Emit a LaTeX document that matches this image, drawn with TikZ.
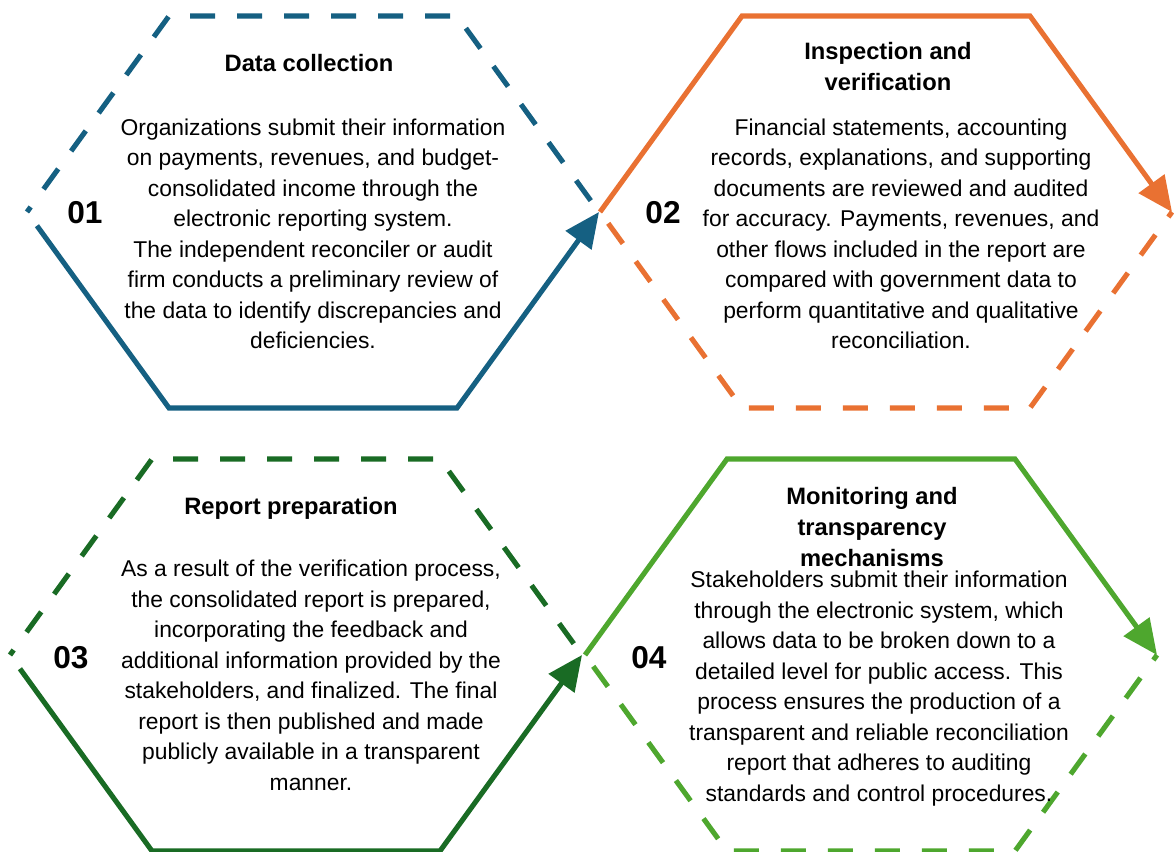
\documentclass[tikz,border=0pt]{standalone}
\usepackage{fontspec}
\setmainfont{Liberation Sans}
\usetikzlibrary{arrows.meta,calc}
\definecolor{stblue}{HTML}{156082}
\definecolor{storange}{HTML}{E97132}
\definecolor{stdkgreen}{HTML}{196B24}
\definecolor{stgreen}{HTML}{4EA72E}

\begin{document}
\begin{tikzpicture}[
  x=0.02cm, y=-0.02cm,
  >={Triangle[length=7mm,width=6.2mm]},
  edge/.style={line width=2.9pt, draw=#1},
  flow/.style={edge=#1, ->},
  gap/.style={edge=#1, dash pattern=on 0.5cm off 0.44cm, dash phase=0.66cm},
  title/.style={font=\fontsize{13.5}{17.5}\selectfont\bfseries, align=center},
  body/.style={font=\fontsize{13}{17.35}\selectfont, align=center},
  num/.style={font=\fontsize{18}{20}\selectfont\bfseries}
]
\useasboundingbox (0,0) rectangle (1174,852);

% hexagon corners
\foreach \k/\cx/\cy in {1/313/212, 2/886/212, 3/296/655, 4/871/655} {
  \coordinate (h\k-l)  at (\cx-286,\cy);
  \coordinate (h\k-tl) at (\cx-144,\cy-196);
  \coordinate (h\k-tr) at (\cx+144,\cy-196);
  \coordinate (h\k-r)  at (\cx+286,\cy);
  \coordinate (h\k-br) at (\cx+144,\cy+196);
  \coordinate (h\k-bl) at (\cx-144,\cy+196);
}

\draw[flow=stblue] ($(h1-l)!0.07!(h1-bl)$) -- (h1-bl) -- (h1-br) -- (h1-r);
\draw[gap=stblue] (h1-r) -- (h1-tr) -- (h1-tl) -- (h1-l);

\draw[flow=storange] (h2-l) -- (h2-tl) -- (h2-tr) -- (h2-r);
\draw[gap=storange] (h2-l) -- (h2-bl) -- (h2-br) -- (h2-r);

\draw[flow=stdkgreen] ($(h3-l)!0.07!(h3-bl)$) -- (h3-bl) -- (h3-br) -- (h3-r);
\draw[gap=stdkgreen] (h3-r) -- (h3-tr) -- (h3-tl) -- (h3-l);

\draw[flow=stgreen] (h4-l) -- (h4-tl) -- (h4-tr) -- (h4-r);
\draw[gap=stgreen] (h4-l) -- (h4-bl) -- (h4-br) -- (h4-r);

% step numbers
\node[num] (collect-no) at (85,213) {01};
\node[num] (check-no) at (663,213) {02};
\node[num] (report-no) at (71,658) {03};
\node[num] (monitor-no) at (649,658) {04};

% titles
\node[title] (collect-title) at (309,63) {Data collection};
\node[title] (check-title) at (888,66.5) {Inspection and\\verification};
\node[title] (report-title) at (291,508) {Report preparation};
\node[title] (monitor-title) at (872,527) {Monitoring and\\transparency\\mechanisms};

% descriptions
\node[body] (collect-text) at (313,234) {Organizations submit their information\\on payments, revenues, and budget-\\consolidated income through the\\electronic reporting system.\\The independent reconciler or audit\\firm conducts a preliminary review of\\the data to identify discrepancies and\\deficiencies.};
\node[body] (check-text) at (901,234) {Financial statements, accounting\\records, explanations, and supporting\\documents are reviewed and audited\\for accuracy. Payments, revenues, and\\other flows included in the report are\\compared with government data to\\perform quantitative and qualitative\\reconciliation.};
\node[body] (report-text) at (311,675.5) {As a result of the verification process,\\the consolidated report is prepared,\\incorporating the feedback and\\additional information provided by the\\stakeholders, and finalized. The final\\report is then published and made\\publicly available in a transparent\\manner.};
\node[body] (monitor-text) at (879,688.5) {Stakeholders submit their information\\through the electronic system, which\\allows data to be broken down to a\\detailed level for public access. This\\process ensures the production of a\\transparent and reliable reconciliation\\report that adheres to auditing\\standards and control procedures.};
\end{tikzpicture}
\end{document}
